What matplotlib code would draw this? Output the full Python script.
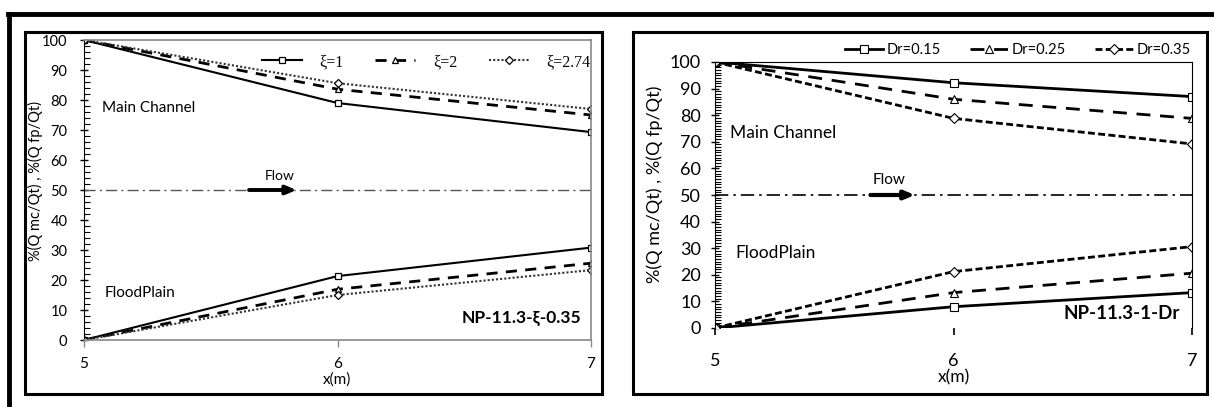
import matplotlib
matplotlib.use("Agg")
import matplotlib.pyplot as plt
from matplotlib.patches import Rectangle
from matplotlib.lines import Line2D
from matplotlib.ticker import MultipleLocator

# ---------------- data ----------------
x = [5, 6, 7]
xi_labels = ["ξ=1", "ξ=2", "ξ=2.74"]
xi_mc_1 = [100, 79, 69.3]
xi_mc_2 = [100, 83.6, 75]
xi_mc_274 = [100, 85.6, 77]
xi_fp_1 = [0, 21.3, 30.8]
xi_fp_2 = [0, 16.9, 25.6]
xi_fp_274 = [0, 15, 23.3]

dr_labels = ["Dr=0.15", "Dr=0.25", "Dr=0.35"]
dr_mc_015 = [100, 92.2, 87]
dr_mc_025 = [100, 86, 78.8]
dr_mc_035 = [100, 78.8, 69.2]
dr_fp_015 = [0, 8, 13.3]
dr_fp_025 = [0, 13.3, 20.6]
dr_fp_035 = [0, 21.2, 30.6]

yticks = [0, 10, 20, 30, 40, 50, 60, 70, 80, 90, 100]
xticks = [5, 6, 7]
ylabel = "%(Q mc/Qt) , %(Q fp/Qt)"
xlabel = "x(m)"

W, H = 1214, 407
fig = plt.figure(figsize=(W / 100, H / 100), dpi=100)
sans = ["Lato", "DejaVu Sans"]
serif = ["Liberation Serif", "DejaVu Serif"]


def fx(px):
    return px / W


def fy(py):
    return 1 - py / H


# outer frame (top + left visible)
fig.add_artist(Line2D([fx(8), fx(1214)], [fy(14), fy(14)], color="black", lw=3.5))
fig.add_artist(Line2D([fx(9), fx(9)], [fy(14), fy(407)], color="black", lw=3.5))
# inner panel frames
for (l, t, r, b) in [(25, 32, 602, 394), (633, 32, 1207, 394)]:
    fig.add_artist(Rectangle((fx(l), fy(b)), fx(r) - fx(l), fy(t) - fy(b),
                             fill=False, edgecolor="black", lw=2.2,
                             transform=fig.transFigure))

# ---------------- panel 1 ----------------
ax1 = fig.add_axes([fx(84), fy(340), fx(591) - fx(84), fy(40) - fy(340)])
ax1.set_xlim(5, 7)
ax1.set_ylim(0, 100)
mk = dict(markersize=5, markerfacecolor="white", markeredgecolor="black", markeredgewidth=0.9)
ax1.plot(x, xi_mc_1, color="black", lw=1.5, ls="-", marker="s", label=xi_labels[0], **mk)
ax1.plot(x, xi_mc_2, color="black", lw=2.0, ls=(0, (4, 3)), marker="^", label=xi_labels[1], **mk)
ax1.plot(x, xi_mc_274, color="#333333", lw=1.5, ls=(0, (1, 1)), marker="D", label=xi_labels[2],
         **dict(mk, markersize=4))
ax1.plot(x, xi_fp_1, color="black", lw=1.5, ls="-", marker="s", **mk)
ax1.plot(x, xi_fp_2, color="black", lw=2.0, ls=(0, (4, 3)), marker="^", **mk)
ax1.plot(x, xi_fp_274, color="#333333", lw=1.5, ls=(0, (1, 1)), marker="D", **dict(mk, markersize=4))
ax1.axhline(50, color="#555555", lw=1.0, ls=(0, (8, 3, 1.5, 3)))
ax1.annotate("", xy=(5.85, 50), xytext=(5.64, 50),
             arrowprops=dict(arrowstyle="-|>,head_length=0.6,head_width=0.25", color="black", lw=2.8))
ax1.text(5.77, 52.5, "Flow", ha="center", va="bottom", fontsize=10, family=sans)
ax1.text(5.07, 77.3, "Main Channel", ha="left", va="center", fontsize=11, family=sans)
ax1.text(5.08, 15.7, "FloodPlain", ha="left", va="center", fontsize=11, family=sans)
ax1.text(6.96, 7.3, "NP-11.3-ξ-0.35", ha="right", va="center", fontsize=12.5, fontweight="bold", family=sans)

for s in ["top", "right", "bottom"]:
    ax1.spines[s].set_color("#888888")
    ax1.spines[s].set_linewidth(1.2)
ax1.spines["left"].set_color("black")
ax1.set_xticks(xticks)
ax1.set_yticks(yticks)
ax1.yaxis.set_minor_locator(MultipleLocator(2))
ax1.tick_params(axis="y", which="major", direction="inout", length=6, width=1, labelsize=10.5, pad=9)
ax1.tick_params(axis="y", which="minor", direction="in", length=4, width=0.8)
ax1.tick_params(axis="x", which="major", direction="out", length=5, width=1, color="#888888",
                labelsize=11, pad=7)
for lab in ax1.get_xticklabels() + ax1.get_yticklabels():
    lab.set_family(sans)
ax1.set_xlabel(xlabel, fontsize=11, family=sans, labelpad=1)
ax1.set_ylabel(ylabel, fontsize=10.5, family=sans)
ax1.yaxis.set_label_coords(-0.08, 0.53)
ax1.legend(loc="center", bbox_to_anchor=(0.675, 0.927), ncol=3, frameon=False,
           prop=dict(family=serif, size=11.5), handlelength=2.5, columnspacing=2.0,
           handletextpad=1.1, borderaxespad=0)

# ---------------- panel 2 ----------------
ax2 = fig.add_axes([fx(715), fy(328), fx(1192) - fx(715), fy(62) - fy(328)])
ax2.set_xlim(5, 7)
ax2.set_ylim(0, 100)
mk2 = dict(markersize=6, markerfacecolor="white", markeredgecolor="black", markeredgewidth=0.8)
ax2.plot(x, dr_mc_015, color="black", lw=2.0, ls="-", marker="s", label=dr_labels[0], **mk2)
ax2.plot(x, dr_mc_025, color="black", lw=2.0, ls=(0, (5, 3.5)), marker="^", label=dr_labels[1], **mk2)
ax2.plot(x, dr_mc_035, color="black", lw=2.0, ls=(0, (2.5, 1.2)), marker="D", label=dr_labels[2],
         **dict(mk2, markersize=5))
ax2.plot(x, dr_fp_015, color="black", lw=2.0, ls="-", marker="s", **mk2)
ax2.plot(x, dr_fp_025, color="black", lw=2.0, ls=(0, (5, 3.5)), marker="^", **mk2)
ax2.plot(x, dr_fp_035, color="black", lw=2.0, ls=(0, (2.5, 1.2)), marker="D", **dict(mk2, markersize=5))
ax2.axhline(50, color="black", lw=1.2, ls=(0, (8, 3, 1.5, 3)))
ax2.annotate("", xy=(5.85, 50), xytext=(5.64, 50),
             arrowprops=dict(arrowstyle="-|>,head_length=0.6,head_width=0.25", color="black", lw=3))
ax2.text(5.73, 55.5, "Flow", ha="center", va="center", fontsize=11, family=sans)
ax2.text(5.063, 73.3, "Main Channel", ha="left", va="center", fontsize=12.5, family=sans)
ax2.text(5.084, 28.2, "FloodPlain", ha="left", va="center", fontsize=12.5, family=sans)
ax2.text(6.95, 5.6, "NP-11.3-1-Dr", ha="right", va="center", fontsize=13.5, fontweight="bold", family=sans)

ax2.spines["bottom"].set_visible(False)
for s in ["top", "right", "left"]:
    ax2.spines[s].set_color("black")
ax2.spines["top"].set_linewidth(0.8)
ax2.spines["right"].set_linewidth(0.8)
ax2.set_xticks(xticks)
ax2.set_yticks(yticks)
ax2.yaxis.set_minor_locator(MultipleLocator(1))
ax2.tick_params(axis="y", which="major", direction="inout", length=6, width=1, labelsize=13, pad=7)
ax2.tick_params(axis="y", which="minor", direction="in", length=4, width=0.8)
ax2.tick_params(axis="x", which="major", direction="out", length=5, width=1.2, labelsize=13, pad=13)
for lab in ax2.get_xticklabels() + ax2.get_yticklabels():
    lab.set_family(sans)
ax2.set_xlabel(xlabel, fontsize=12.5, family=sans, labelpad=0)
ax2.set_ylabel(ylabel, fontsize=13, family=sans)
ax2.yaxis.set_label_coords(-0.11, 0.54)
ax2.legend(loc="center", bbox_to_anchor=(0.636, 1.045), ncol=3, frameon=False,
           prop=dict(family=sans, size=10.5), handlelength=2.6, columnspacing=2.0,
           handletextpad=0.25, borderaxespad=0)

fig.savefig("out.png", dpi=100)
